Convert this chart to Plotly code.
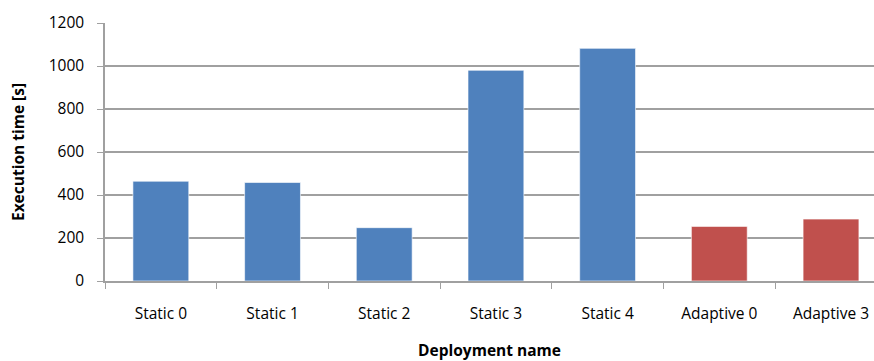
import plotly.graph_objects as go

# Execution time per deployment
deployments = ["Static 0", "Static 1", "Static 2", "Static 3", "Static 4", "Adaptive 0", "Adaptive 3"]
exec_time = [464, 458, 248, 980, 1082, 254, 288]
bar_colors = ["#4F81BD"] * 5 + ["#C0504D"] * 2

FONT = "Open Sans"
GRID = "#a0a0a0"
SIZE = 15.5

fig = go.Figure(
    go.Bar(
        x=deployments,
        y=exec_time,
        width=0.5,
        marker=dict(color=bar_colors, line=dict(color="rgba(255,255,255,0.6)", width=1)),
    )
)

fig.update_layout(
    width=874,
    height=361,
    margin=dict(l=105, r=0, t=23, b=80),
    paper_bgcolor="white",
    plot_bgcolor="white",
    showlegend=False,
    font=dict(family=FONT, size=SIZE, color="black"),
)

fig.update_xaxes(
    type="category",
    range=[-0.5, 6.385],
    showline=True,
    linecolor=GRID,
    linewidth=1.5,
    ticks="outside",
    tickson="boundaries",
    ticklen=6,
    tickcolor=GRID,
    showgrid=False,
    tickfont=dict(family=FONT, size=SIZE),
    ticklabelstandoff=18,
    title=dict(text="<b>Deployment name</b>", font=dict(family=FONT, size=SIZE), standoff=26),
)

fig.update_yaxes(
    range=[0, 1200],
    dtick=200,
    showline=True,
    linecolor=GRID,
    linewidth=1.5,
    ticks="outside",
    ticklen=6,
    tickcolor=GRID,
    showgrid=True,
    gridcolor=GRID,
    gridwidth=1.5,
    zeroline=False,
    tickfont=dict(family=FONT, size=SIZE),
    ticklabelstandoff=10,
    title=dict(text="<b>Execution time [s]</b>", font=dict(family=FONT, size=SIZE), standoff=20),
)

fig.write_html("out.html")
